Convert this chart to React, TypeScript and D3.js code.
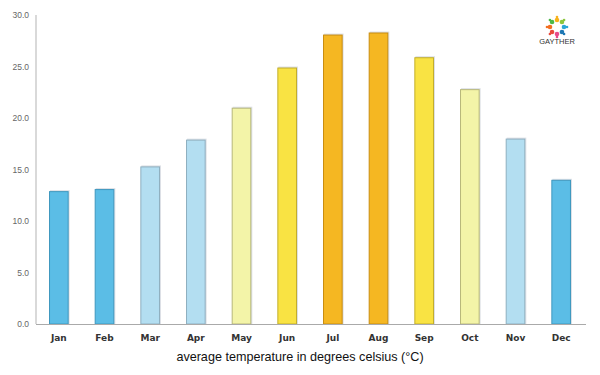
import React from "react";
import * as d3 from "d3";

const months = ["Jan","Feb","Mar","Apr","May","Jun","Jul","Aug","Sep","Oct","Nov","Dec"];
const temps = [12.9, 13.1, 15.3, 17.9, 21.0, 24.9, 28.1, 28.3, 25.9, 22.8, 18.0, 14.0];
const yTicks = [0, 5, 10, 15, 20, 25, 30];
const logoColors = ["#f7b21c", "#8cc63e", "#2aa7d8", "#1f78b4", "#e84a8a", "#e94a3c", "#f36f21", "#4cb848"];

function colorFor(v: number): [string, string] {
  if (v < 15) return ["#5bbde6", "#3f98bf"];
  if (v < 20) return ["#b3def1", "#8fb0c0"];
  if (v < 24) return ["#f3f4a8", "#b8b87a"];
  if (v < 27) return ["#f9e343", "#c3ae2a"];
  return ["#f5b722", "#c98d10"];
}

export default function App() {
  const W = 600, H = 375;
  const left = 36, right = 584, top = 15, bottom = 324;
  const x = d3.scaleBand().domain(months).range([left, right]).paddingInner(0.57).paddingOuter(0.285);
  const y = d3.scaleLinear().domain([0, 30]).range([bottom, top]);
  const cx = 557, cy = 27;
  return (
    <svg width={W} height={H} style={{ position: "absolute", left: 0, top: 0 }}>
      <rect width={W} height={H} fill="#fff" />
      {yTicks.map(t => (
        <text key={t} x={29} y={y(t) + 3} textAnchor="end" fontSize={8.5} fill="#666" fontFamily="Liberation Sans, Arial, sans-serif">{t.toFixed(1)}</text>
      ))}
      {months.map((m, i) => {
        const [f, s] = colorFor(temps[i]);
        const bx = x(m)!;
        const by = y(temps[i]);
        return (
          <g key={m}>
            <rect x={bx + 1} y={by - 1} width={x.bandwidth()} height={bottom - by + 1} fill="#dde0e6" />
            <rect x={bx + 0.5} y={by + 0.5} width={x.bandwidth() - 1} height={bottom - by - 0.5} fill={f} stroke={s} strokeWidth={1} />
            <text x={bx + x.bandwidth() / 2} y={341} textAnchor="middle" fontSize={9} fontWeight="bold" fill="#333" fontFamily="DejaVu Sans, sans-serif">{m}</text>
          </g>
        );
      })}
      <line x1={left} x2={left} y1={top} y2={bottom} stroke="#cccccc" strokeWidth={1.5} />
      <line x1={left} x2={586} y1={bottom + 0.5} y2={bottom + 0.5} stroke="#aaaaaa" strokeWidth={1} />
      <text x={300} y={361} textAnchor="middle" fontSize={12.6} fill="#111" fontFamily="Liberation Sans, Arial, sans-serif">average temperature in degrees celsius (°C)</text>
      <g>
        {logoColors.map((c, i) => {
          const a = (i / 8) * Math.PI * 2 - Math.PI / 2;
          return (
            <g key={i}>
              <circle cx={cx + Math.cos(a) * 7} cy={cy + Math.sin(a) * 7} r={2.3} fill={c} />
              <circle cx={cx + Math.cos(a) * 10} cy={cy + Math.sin(a) * 10} r={1.3} fill={c} />
            </g>
          );
        })}
        <text x={cx} y={44} textAnchor="middle" fontSize={7.5} fill="#333" fontFamily="Liberation Sans, Arial, sans-serif">GAYTHER</text>
      </g>
    </svg>
  );
}
